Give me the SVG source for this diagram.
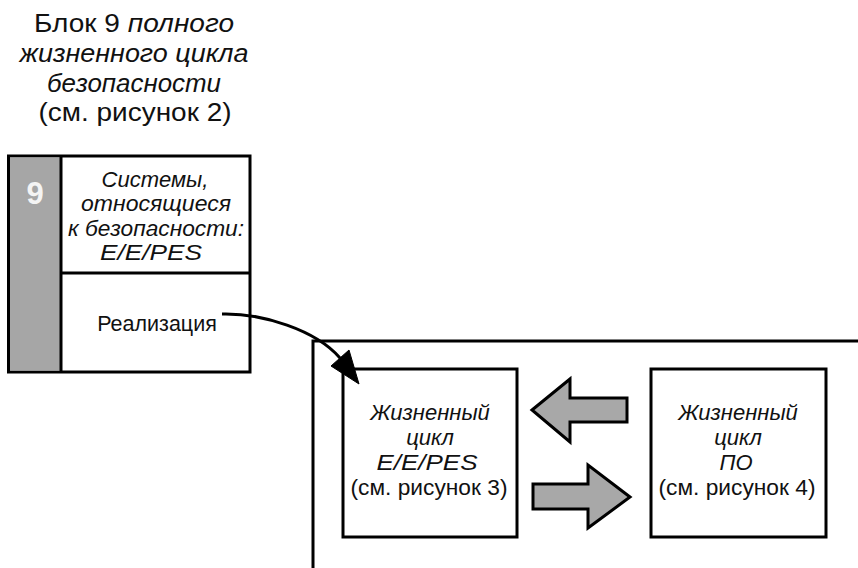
<svg xmlns="http://www.w3.org/2000/svg" width="858" height="568" viewBox="0 0 858 568">
  <style>
    .t { font-family: "Liberation Sans", Arial, sans-serif; fill: #111; text-anchor: middle; }
    .i { font-style: italic; }
    .box { fill: #fff; stroke: #000; stroke-width: 3; }
    .line { fill: none; stroke: #000; stroke-width: 3; }
    .fat { fill: #a8a8a8; stroke: #000; stroke-width: 3; stroke-linejoin: miter; }
  </style>
  <rect width="858" height="568" fill="#fff"/>

  <!-- heading above block 9 -->
  <g id="heading">
    <text class="t" x="134" y="32" font-size="26" textLength="200" lengthAdjust="spacingAndGlyphs">Блок 9 <tspan class="i">полного</tspan></text>
    <text class="t i" x="134" y="62" font-size="26" textLength="229" lengthAdjust="spacingAndGlyphs">жизненного цикла</text>
    <text class="t i" x="134" y="92" font-size="26" textLength="174" lengthAdjust="spacingAndGlyphs">безопасности</text>
    <text class="t" x="135" y="121" font-size="26" textLength="193" lengthAdjust="spacingAndGlyphs">(см. рисунок 2)</text>
  </g>

  <!-- block 9 -->
  <g id="block9">
    <rect x="8.5" y="156" width="241.5" height="216" class="box"/>
    <rect x="10" y="157.5" width="51" height="213" fill="#a6a6a6"/>
    <line x1="61" y1="156" x2="61" y2="372" class="line"/>
    <line x1="61" y1="273" x2="250" y2="273" class="line"/>
    <text x="35" y="204" font-family="Liberation Sans, Arial, sans-serif" font-weight="bold" font-size="31" fill="#f4f4f4" text-anchor="middle">9</text>
    <text class="t i" x="155" y="187" font-size="22">Системы,</text>
    <text class="t i" x="156" y="211" font-size="22" textLength="150" lengthAdjust="spacingAndGlyphs">относящиеся</text>
    <text class="t i" x="156" y="236" font-size="22" textLength="176" lengthAdjust="spacingAndGlyphs">к безопасности:</text>
    <text class="t i" x="151" y="260" font-size="22" textLength="102" lengthAdjust="spacingAndGlyphs">E/E/PES</text>
    <text class="t" x="157" y="331" font-size="21.5">Реализация</text>
  </g>

  <!-- enclosing frame -->
  <g id="frame">
    <path d="M313,568 V341 H858" class="line"/>
  </g>

  <!-- E/E/PES life cycle -->
  <g id="eepes">
    <rect x="343" y="369" width="174" height="168" class="box"/>
    <text class="t i" x="430" y="420" font-size="22">Жизненный</text>
    <text class="t i" x="430" y="445" font-size="22">цикл</text>
    <text class="t i" x="427" y="470" font-size="22" textLength="101" lengthAdjust="spacingAndGlyphs">E/E/PES</text>
    <text class="t" x="429" y="495" font-size="22" textLength="157" lengthAdjust="spacingAndGlyphs">(см. рисунок 3)</text>
  </g>

  <!-- software life cycle -->
  <g id="software">
    <rect x="651" y="369" width="175" height="168" class="box"/>
    <text class="t i" x="738" y="420" font-size="22">Жизненный</text>
    <text class="t i" x="738" y="445" font-size="22">цикл</text>
    <text class="t i" x="736" y="470" font-size="22">ПО</text>
    <text class="t" x="737" y="495" font-size="22" textLength="157" lengthAdjust="spacingAndGlyphs">(см. рисунок 4)</text>
  </g>

  <!-- connectors -->
  <g id="connectors">
    <path d="M222,314 C262,313 316,330 340,358" class="line"/>
    <polygon points="359,384 331,366 349,350" fill="#000" stroke="#000" stroke-width="1"/>
    <polygon points="532,410 570,379 570,398 627,398 627,422 570,422 570,442" class="fat"/>
    <polygon points="630,497 588,465 588,484 533,484 533,509 588,509 588,528" class="fat"/>
  </g>
</svg>
